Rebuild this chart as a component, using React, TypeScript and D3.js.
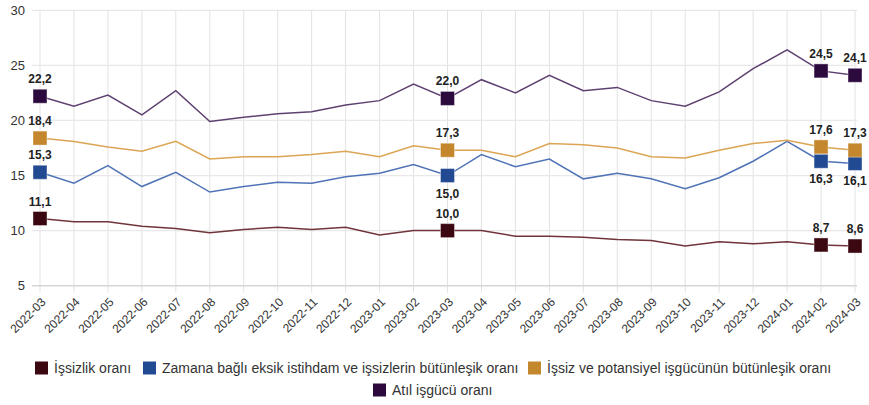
import React from "react";
import * as d3 from "d3";

const months = [
  "2022-03","2022-04","2022-05","2022-06","2022-07","2022-08","2022-09","2022-10","2022-11","2022-12",
  "2023-01","2023-02","2023-03","2023-04","2023-05","2023-06","2023-07","2023-08","2023-09","2023-10",
  "2023-11","2023-12","2024-01","2024-02","2024-03",
];
const issizlik = [11.1,10.8,10.8,10.4,10.2,9.8,10.1,10.3,10.1,10.3,9.6,10.0,10.0,10.0,9.5,9.5,9.4,9.2,9.1,8.6,9.0,8.8,9.0,8.7,8.6];
const zamana = [15.3,14.3,15.9,14.0,15.3,13.5,14.0,14.4,14.3,14.9,15.2,16.0,15.0,16.9,15.8,16.5,14.7,15.2,14.7,13.8,14.8,16.3,18.1,16.3,16.1];
const potansiyel = [18.4,18.1,17.6,17.2,18.1,16.5,16.7,16.7,16.9,17.2,16.7,17.7,17.3,17.3,16.7,17.9,17.8,17.5,16.7,16.6,17.3,17.9,18.2,17.6,17.3];
const atil = [22.2,21.3,22.3,20.5,22.7,19.9,20.3,20.6,20.8,21.4,21.8,23.3,22.0,23.7,22.5,24.1,22.7,23.0,21.8,21.3,22.6,24.7,26.4,24.5,24.1];
const yTicks = [5,10,15,20,25,30];
const markedIdx = [0,12,23,24];

const seriesNames = [
  "İşsizlik oranı",
  "Zamana bağlı eksik istihdam ve işsizlerin bütünleşik oranı",
  "İşsiz ve potansiyel işgücünün bütünleşik oranı",
  "Atıl işgücü oranı",
];

const series = [
  { name: seriesNames[0], values: issizlik, fill: "#3b0710", line: "#70343a", below: [] as number[] },
  { name: seriesNames[1], values: zamana, fill: "#214a92", line: "#4f73b6", below: [12,23,24] },
  { name: seriesNames[2], values: potansiyel, fill: "#c4872e", line: "#dba554", below: [] as number[] },
  { name: seriesNames[3], values: atil, fill: "#2c0a3e", line: "#5e4070", below: [] as number[] },
];

const FONT = "'Liberation Sans', Arial, Helvetica, sans-serif";

export default function App() {
  const W = 869, H = 405;
  const x = d3.scalePoint<string>().domain(months).range([40, 855]);
  const y = d3.scaleLinear().domain([5, 30]).range([285.7, 10.3]);
  const fmt = (v: number) => v.toFixed(1).replace(".", ",");

  const line = (vals: number[]) =>
    d3.line<number>().x((_, i) => x(months[i]) as number).y((v) => y(v))(vals) || "";

  const ms = 14;

  const legendRow1 = [
    { s: series[0], x: 35, y: 368 },
    { s: series[1], x: 143, y: 368 },
    { s: series[2], x: 528, y: 368 },
  ];
  const legendRow2 = [{ s: series[3], x: 373, y: 390 }];

  return (
    <svg width={W} height={H} style={{ position: "absolute", left: 0, top: 0, fontFamily: FONT }}>
      <rect width={W} height={H} fill="#fff" />
      {months.map((m) => (
        <line key={m} x1={x(m)} x2={x(m)} y1={y(30)} y2={y(5) + 7} stroke="#e2e2e2" strokeWidth={1} />
      ))}
      {yTicks.map((t) => (
        <g key={t}>
          <line x1={32} x2={857} y1={y(t)} y2={y(t)} stroke={t === 5 ? "#d6d6d6" : "#e8e8e8"} strokeWidth={t === 5 ? 1.5 : 1.2} />
          <text x={25} y={y(t)} dy="0.35em" textAnchor="end" fontSize={13} fill="#333">{t}</text>
        </g>
      ))}
      {months.map((m) => (
        <text key={m} transform={`translate(${(x(m) as number) + 6.5},${y(5) + 17}) rotate(-45)`} textAnchor="end" fontSize={12} fill="#333">
          {m}
        </text>
      ))}
      {series.map((s) => (
        <path key={s.name} d={line(s.values)} fill="none" stroke={s.line} strokeWidth={1.5} />
      ))}
      {series.map((s) => (
        <g key={s.name + "m"}>
          {markedIdx.map((i) => {
            const cx = x(months[i]) as number;
            const cy = y(s.values[i]);
            return (
              <rect key={i} x={cx - ms / 2} y={cy - ms / 2} width={ms} height={ms} fill={s.fill} stroke="#ffffff" strokeOpacity={0.4} strokeWidth={1} />
            );
          })}
        </g>
      ))}
      {series.map((s) => (
        <g key={s.name + "l"}>
          {markedIdx.map((i) => {
            const cx = x(months[i]) as number;
            const cy = y(s.values[i]);
            const below = s.below.includes(i);
            return (
              <text key={i} x={cx} y={below ? cy + 22 : cy - 13} textAnchor="middle" fontSize={12} fontWeight="bold" fill="#222">
                {fmt(s.values[i])}
              </text>
            );
          })}
        </g>
      ))}
      {[...legendRow1, ...legendRow2].map((l) => (
        <g key={l.s.name}>
          <rect x={l.x} y={l.y - 6.5} width={13} height={13} fill={l.s.fill} />
          <text x={l.x + 19} y={l.y} dy="0.35em" fontSize={14} fill="#333">{l.s.name}</text>
        </g>
      ))}
    </svg>
  );
}
